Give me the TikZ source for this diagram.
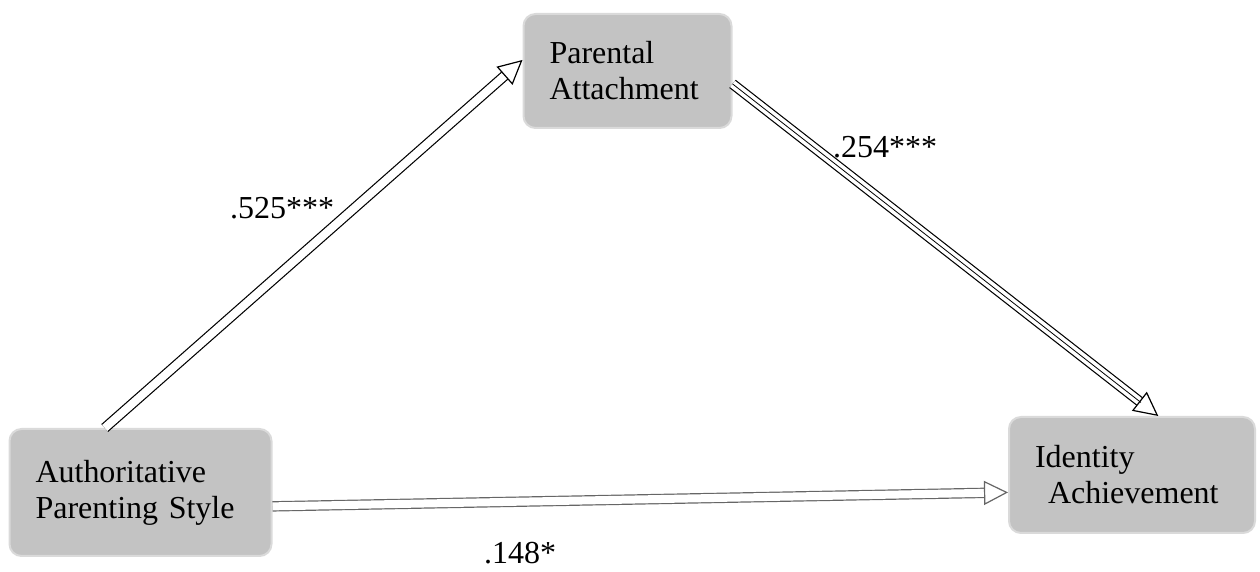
\documentclass[tikz,border=0pt]{standalone}
\usepackage{fontspec}
\setmainfont{Liberation Serif}
\usetikzlibrary{positioning,arrows.meta}
\definecolor{boxgray}{RGB}{195,195,195}
\definecolor{boxedge}{RGB}{218,218,218}

\begin{document}
\begin{tikzpicture}[
        x=0.5pt, y=-0.5pt,
        font=\fontsize{16}{18}\selectfont,
        var/.style = {rectangle, fill=boxgray, draw=boxedge, line width=1pt, rounded corners=6pt, align=left, inner xsep=13pt, inner ysep=0pt},
        line/.style = {draw, line width=0.6pt, double=white, double distance=4pt, -{Triangle[open, fill=white, length=12pt, width=12pt]}}
    ]
    \useasboundingbox (0,0) rectangle (1260,572);

    \node [var, text width=105pt, minimum height=63.5pt] (aps) at (140.5,492.5) {Authoritative\\Parenting Style};
    \node [var, text width=78pt, minimum height=57pt] (pa) at (627.5,71) {Parental\\Attachment};
    \node [var, text width=97pt, minimum height=58pt] (ia) at (1132,475) {Identity\\\hspace*{6.5pt}Achievement};

    \node (aps_pa) at (282,208) {.525***};
    \node (pa_ia) at (885,147) {.254***};
    \node (aps_ia) at (520,553) {.148*};

    \path [line] (aps.119) -- (pa.174);
    \path [line] (pa.-7) -- (ia.66);
    \path [draw, line width=0.4pt, shorten >=11pt] (pa.-7) -- (ia.66); % middle strand
    \path [line, draw=black!60] (aps.-6) -- (ia.188);

\end{tikzpicture}
\end{document}
